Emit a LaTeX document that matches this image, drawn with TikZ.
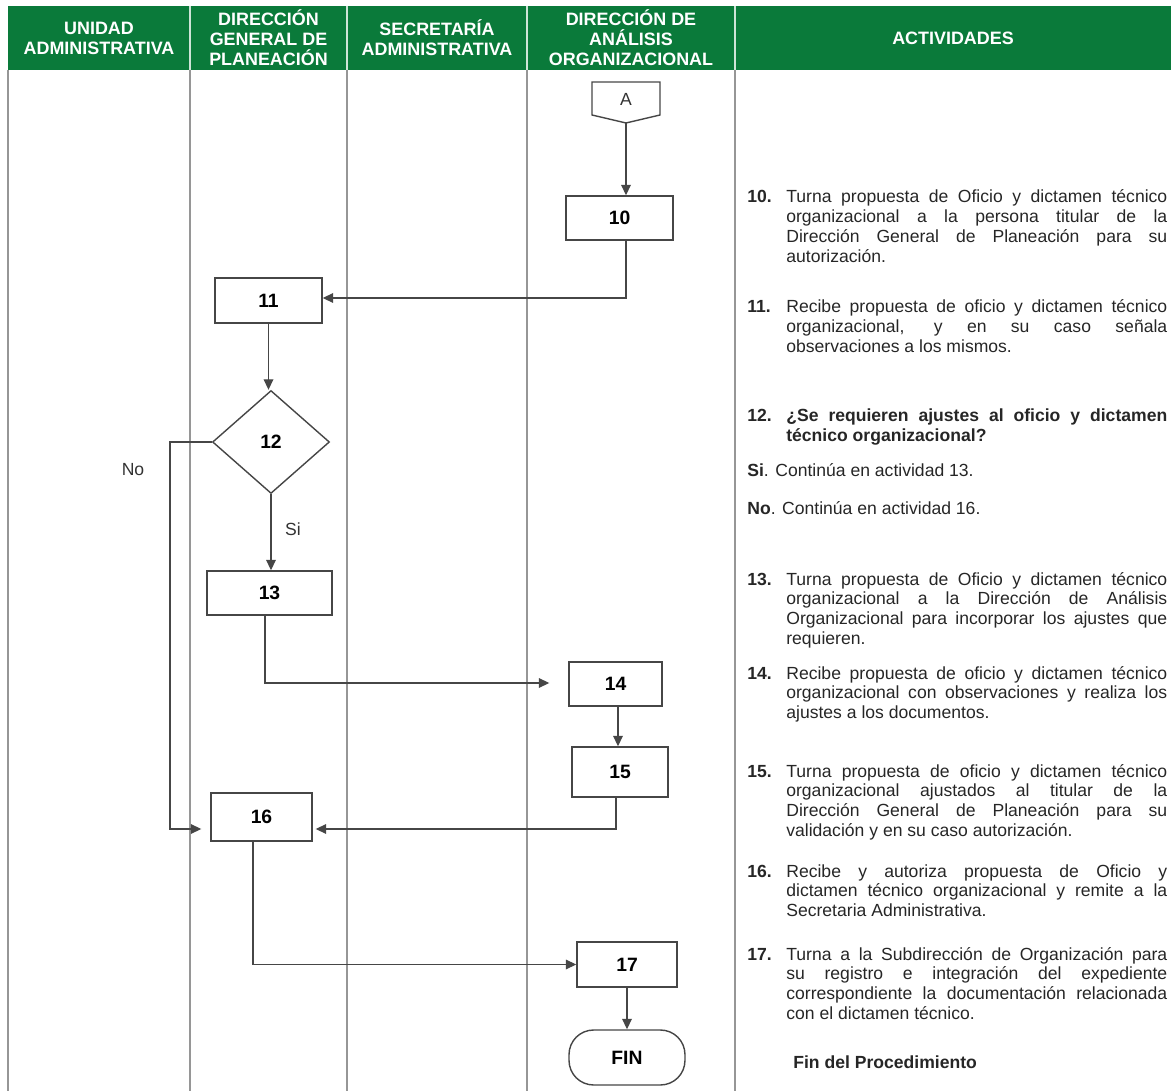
\documentclass[tikz,border=0pt]{standalone}
\usepackage{fontspec}
\setmainfont{Liberation Sans}
\usepackage{tikz}
\usetikzlibrary{arrows.meta,calc,shapes.geometric}
\definecolor{hdrgreen}{RGB}{10,122,58}
\definecolor{lanegray}{RGB}{150,150,150}
\definecolor{boxgray}{RGB}{70,70,70}
\hyphenpenalty=10000
\exhyphenpenalty=10000
\tolerance=9999
\hbadness=10000

\begin{document}
\begin{tikzpicture}[x=0.02cm,y=-0.02cm,
	lane/.style={draw=lanegray,line width=0.9pt},
	hdr/.style={text=white,inner sep=0pt,align=center,font=\bfseries\fontsize{10.2}{11.4}\selectfont},
	actbox/.style={draw=boxgray,line width=0.8pt,fill=white,inner sep=0pt,font=\bfseries\fontsize{11}{13}\selectfont},
	flow/.style={draw=boxgray,line width=0.7pt,-{Triangle[length=6pt,width=5.5pt]}},
	num/.style={anchor=base west,inner sep=0pt,text=black!85,font=\bfseries\fontsize{10}{11.3}\selectfont},
	txt/.style={anchor=base west,inner sep=0pt,text=black!85,text width=7.62cm,align=justify,font=\fontsize{10}{11.3}\selectfont},
	lbl/.style={inner sep=0pt,text=black!80,font=\fontsize{10}{12}\selectfont}]
		
		\useasboundingbox (0,0) rectangle (1171,1091);
		
		\fill[hdrgreen] (8,6) rectangle (1171,70);
		\foreach \x in {190,347,527,735} \draw[white!80!hdrgreen,line width=0.6pt] (\x,6) -- (\x,70);
		\foreach \x in {8,190,347,527,735} \draw[lane] (\x,70) -- (\x,1091);
		
		\node[hdr] (h1) at (99,38) {UNIDAD\\ADMINISTRATIVA};
		\node[hdr] (h2) at (268.5,38) {DIRECCIÓN\\GENERAL DE\\PLANEACIÓN};
		\node[hdr] (h3) at (437,38) {SECRETARÍA\\ADMINISTRATIVA};
		\node[hdr] (h4) at (631,38) {DIRECCIÓN DE\\ANÁLISIS\\ORGANIZACIONAL};
		\node[hdr] (h5) at (953,38) {ACTIVIDADES};
		
		\draw[boxgray,line width=0.8pt] (592,82) -- (660,82) -- (660,115) -- (626,123) -- (592,115) -- cycle;
		\node[lbl] (a) at (626,99) {A};
		\coordinate (abot) at (626,123);
		
		\node[actbox,minimum width=2.14cm,minimum height=0.88cm] (b10) at (619.5,218) {10};
		\node[actbox,minimum width=2.14cm,minimum height=0.9cm] (b11) at (268.5,300.5) {11};
		\node[actbox,diamond,minimum width=2.34cm,minimum height=2.06cm] (d12) at (271,442) {12};
		\node[actbox,minimum width=2.5cm,minimum height=0.88cm] (b13) at (269.5,593) {13};
		\node[actbox,minimum width=1.86cm,minimum height=0.88cm] (b14) at (615.5,684) {14};
		\node[actbox,minimum width=1.92cm,minimum height=1.0cm] (b15) at (620,772) {15};
		\node[actbox,minimum width=2.02cm,minimum height=0.96cm] (b16) at (261.5,817) {16};
		\node[actbox,minimum width=2.0cm,minimum height=0.9cm] (b17) at (627,964.5) {17};
		\node[actbox,rounded corners=14pt,minimum width=2.32cm,minimum height=1.1cm] (fin) at (627,1057.5) {FIN};
		
		\node[lbl] (no) at (133,470) {No};
		\node[lbl] (si) at (293,529) {Si};
		\coordinate (nocorner) at (170,829);
		
		\draw[flow] (abot) to (abot |- b10.north);
		\draw[flow] (b10.south -| abot) |- ($(b11.east)+(0,-2.5)$);
		\draw[flow] (b11.south) to (b11.south |- d12.north);
		\draw[flow] (d12.south) to (d12.south |- b13.north);
		\draw[flow] (d12.west) -| (nocorner) -- ($(nocorner -| b16.west)+(-9,0)$);
		\draw[flow] ($(b13.south)+(-4.5,0)$) |- ($(b14.west |- 0,683)+(-19,0)$);
		\draw[flow] (b14.south -| 618,0) to (618,0 |- b15.north);
		\draw[flow] (b15.south -| 616,0) |- ($(b16.east |- nocorner)+(3,0)$);
		\draw[flow] ($(b16.south)+(-8.5,0)$) |- (b17.west);
		\draw[flow] (b17.south) to (b17.south |- fin.north);
		
		\node[num] (n10) at (747,203) {10.};
		\node[txt] (t10) at (786,203) {Turna propuesta de Oficio y dictamen técnico\linebreak organizacional a la persona titular de la\linebreak Dirección General de Planeación para su\linebreak autorización.};
		\node[num] (n11) at (747,313) {11.};
		\node[txt] (t11) at (786,313) {Recibe propuesta de oficio y dictamen técnico\linebreak organizacional, y en su caso señala\linebreak observaciones a los mismos.};
		\node[num] (n12) at (747,422) {12.};
		\node[txt,font=\bfseries\fontsize{10}{11.3}\selectfont] (t12) at (786,422) {¿Se requieren ajustes al oficio y dictamen\linebreak técnico organizacional?};
		\node[txt,text width=8.4cm] (tsi) at (747,477) {\textbf{Si}. Continúa en actividad 13.};
		\node[txt,text width=8.4cm] (tno) at (747,515) {\textbf{No}. Continúa en actividad 16.};
		\node[num] (n13) at (747,585) {13.};
		\node[txt] (t13) at (786,585) {Turna propuesta de Oficio y dictamen técnico\linebreak organizacional a la Dirección de Análisis\linebreak Organizacional para incorporar los ajustes que\linebreak requieren.};
		\node[num] (n14) at (747,679) {14.};
		\node[txt] (t14) at (786,679) {Recibe propuesta de oficio y dictamen técnico\linebreak organizacional con observaciones y realiza los\linebreak ajustes a los documentos.};
		\node[num] (n15) at (747,777) {15.};
		\node[txt] (t15) at (786,777) {Turna propuesta de oficio y dictamen técnico\linebreak organizacional ajustados al titular de la\linebreak Dirección General de Planeación para su\linebreak validación y en su caso autorización.};
		\node[num] (n16) at (747,877) {16.};
		\node[txt] (t16) at (786,877) {Recibe y autoriza propuesta de Oficio y\linebreak dictamen técnico organizacional y remite a la\linebreak Secretaria Administrativa.};
		\node[num] (n17) at (747,960) {17.};
		\node[txt] (t17) at (786,960) {Turna a la Subdirección de Organización para\linebreak su registro e integración del expediente\linebreak correspondiente la documentación relacionada\linebreak con el dictamen técnico.};
		\node[num] (fintxt) at (793,1068) {Fin del Procedimiento};
		
	\end{tikzpicture}
\end{document}
